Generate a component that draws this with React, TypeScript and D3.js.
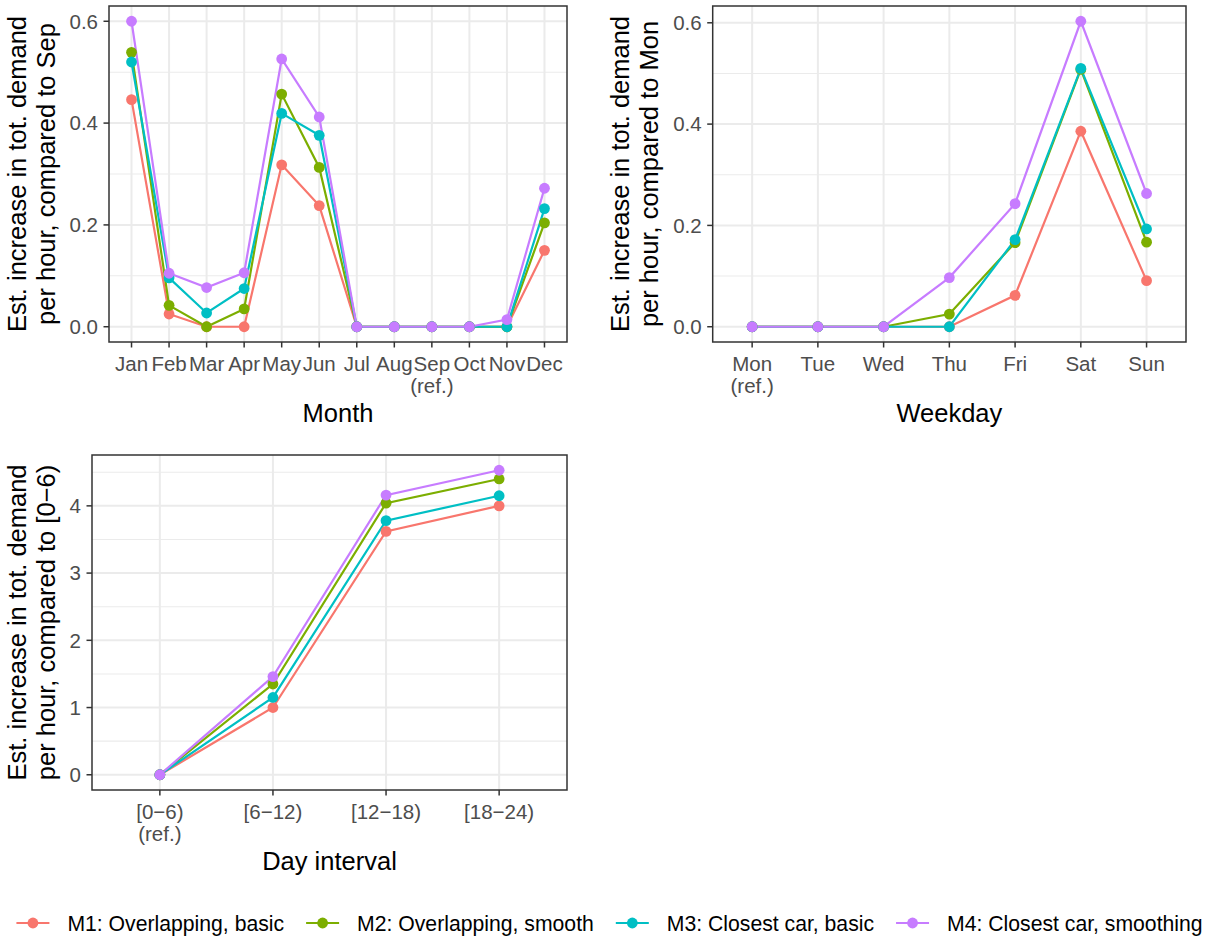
import React from 'react';
import * as d3 from 'd3';

const models = ['M1: Overlapping, basic', 'M2: Overlapping, smooth', 'M3: Closest car, basic', 'M4: Closest car, smoothing'];
const colors = ['#F8766D', '#7CAE00', '#00BFC4', '#C77CFF'];

const months = ['Jan', 'Feb', 'Mar', 'Apr', 'May', 'Jun', 'Jul', 'Aug', 'Sep', 'Oct', 'Nov', 'Dec'];
const monthLabels = ['Jan', 'Feb', 'Mar', 'Apr', 'May', 'Jun', 'Jul', 'Aug', 'Sep\n(ref.)', 'Oct', 'Nov', 'Dec'];
const monthM1 = [0.446, 0.025, 0, 0, 0.318, 0.238, 0, 0, 0, 0, 0, 0.150];
const monthM2 = [0.539, 0.042, 0, 0.035, 0.457, 0.313, 0, 0, 0, 0, 0, 0.204];
const monthM3 = [0.520, 0.096, 0.027, 0.075, 0.419, 0.376, 0, 0, 0, 0, 0, 0.232];
const monthM4 = [0.600, 0.105, 0.077, 0.106, 0.526, 0.412, 0, 0, 0, 0, 0.014, 0.272];

const weekdays = ['Mon', 'Tue', 'Wed', 'Thu', 'Fri', 'Sat', 'Sun'];
const weekdayLabels = ['Mon\n(ref.)', 'Tue', 'Wed', 'Thu', 'Fri', 'Sat', 'Sun'];
const weekM1 = [0, 0, 0, 0, 0.062, 0.386, 0.091];
const weekM2 = [0, 0, 0, 0.025, 0.166, 0.508, 0.167];
const weekM3 = [0, 0, 0, 0, 0.172, 0.510, 0.193];
const weekM4 = [0, 0, 0, 0.097, 0.243, 0.603, 0.263];

const intervals = ['0-6', '6-12', '12-18', '18-24'];
const intervalLabels = ['[0\u22126)\n(ref.)', '[6\u221212)', '[12\u221218)', '[18\u221224)'];
const dayM1 = [0, 1.0, 3.62, 4.0];
const dayM2 = [0, 1.35, 4.04, 4.40];
const dayM3 = [0, 1.15, 3.78, 4.15];
const dayM4 = [0, 1.46, 4.16, 4.53];

const FONT = '"Liberation Sans", Arial, sans-serif';

type PanelProps = {
  ox: number; x0: number; x1: number; y0: number; y1: number;
  cats: string[]; labels: string[]; series: number[][];
  ticks: number[]; minor: number[]; fmt: (v: number) => string;
  xTitle: string; yTitle: string[];
};

function Panel(p: PanelProps) {
  const x = d3.scalePoint<string>().domain(p.cats).range([p.x0, p.x1]).padding(0.6);
  const all = p.series.flat();
  const lo = d3.min(all)!, hi = d3.max(all)!;
  const pad = (hi - lo) * 0.05;
  const y = d3.scaleLinear().domain([lo - pad, hi + pad]).range([p.y1, p.y0]);
  const line = d3.line<number>().x((_, i) => x(p.cats[i])!).y(d => y(d));
  const cy = (p.y0 + p.y1) / 2;
  return (
    <g>
      <rect x={p.x0} y={p.y0} width={p.x1 - p.x0} height={p.y1 - p.y0} fill="#fff" />
      {p.minor.map(v => (
        <line key={'mi' + v} x1={p.x0} x2={p.x1} y1={y(v)} y2={y(v)} stroke="#EBEBEB" strokeWidth={1.1} />
      ))}
      {p.ticks.map(v => (
        <line key={'ma' + v} x1={p.x0} x2={p.x1} y1={y(v)} y2={y(v)} stroke="#EBEBEB" strokeWidth={2} />
      ))}
      {p.cats.map(c => (
        <line key={'mx' + c} x1={x(c)} x2={x(c)} y1={p.y0} y2={p.y1} stroke="#EBEBEB" strokeWidth={2} />
      ))}
      {p.series.map((s, i) => (
        <path key={'l' + i} d={line(s)!} fill="none" stroke={colors[i]} strokeWidth={2.2} />
      ))}
      {p.series.map((s, i) => s.map((v, j) => (
        <circle key={'p' + i + '-' + j} cx={x(p.cats[j])} cy={y(v)} r={5.4} fill={colors[i]} />
      )))}
      <rect x={p.x0} y={p.y0} width={p.x1 - p.x0} height={p.y1 - p.y0} fill="none" stroke="#333333" strokeWidth={1.5} />
      {p.ticks.map(v => (
        <g key={'yt' + v}>
          <line x1={p.x0 - 5.5} x2={p.x0} y1={y(v)} y2={y(v)} stroke="#333333" strokeWidth={1.5} />
          <text x={p.x0 - 11} y={y(v)} dy="0.36em" textAnchor="end" fontSize={20.5} fill="#4D4D4D">{p.fmt(v)}</text>
        </g>
      ))}
      {p.cats.map((c, i) => (
        <g key={'xt' + c}>
          <line x1={x(c)} x2={x(c)} y1={p.y1} y2={p.y1 + 5.5} stroke="#333333" strokeWidth={1.5} />
          {p.labels[i].split('\n').map((t, k) => (
            <text key={k} x={x(c)} y={p.y1 + 29 + k * 21.5} textAnchor="middle" fontSize={20.5} fill="#4D4D4D">{t}</text>
          ))}
        </g>
      ))}
      <text x={(p.x0 + p.x1) / 2} y={p.y1 + 80} textAnchor="middle" fontSize={25.5} fill="#000">{p.xTitle}</text>
      {p.yTitle.map((t, k) => (
        <text key={'ytl' + k} transform={`translate(${p.ox + 26 + k * 29},${cy}) rotate(-90)`} textAnchor="middle" fontSize={25.5} fill="#000">{t}</text>
      ))}
    </g>
  );
}

function Legend() {
  const fs = 21.2;
  const ctx = document.createElement('canvas').getContext('2d')!;
  ctx.font = `${fs}px "Liberation Sans"`;
  const widths = models.map(m => ctx.measureText(m).width);
  const keyW = 33, keyGap = 18, itemGap = 22;
  const total = d3.sum(widths) + models.length * (keyW + keyGap) + (models.length - 1) * itemGap;
  let cx = 609.5 - total / 2;
  const yc = 923;
  const items = models.map((m, i) => {
    const left = cx;
    cx += keyW + keyGap + widths[i] + itemGap;
    return (
      <g key={m}>
        <line x1={left} x2={left + keyW} y1={yc} y2={yc} stroke={colors[i]} strokeWidth={2.2} />
        <circle cx={left + keyW / 2} cy={yc} r={5.4} fill={colors[i]} />
        <text x={left + keyW + keyGap} y={yc} dy="0.36em" fontSize={fs} fill="#000">{m}</text>
      </g>
    );
  });
  return <g>{items}</g>;
}

export default function App() {
  const f1 = d3.format('.1f');
  const f0 = d3.format('d');
  return (
    <svg width={1206} height={938} style={{ position: 'absolute', left: 0, top: 0, background: '#fff' }} fontFamily={FONT}>
      <rect width={1206} height={938} fill="#fff" />
      <Panel ox={0} x0={109} x1={567} y0={6} y1={342} cats={months} labels={monthLabels}
        series={[monthM1, monthM2, monthM3, monthM4]} ticks={[0, 0.2, 0.4, 0.6]} minor={[0.1, 0.3, 0.5]} fmt={f1}
        xTitle="Month" yTitle={['Est. increase in tot. demand', 'per hour, compared to Sep']} />
      <Panel ox={603} x0={712.7} x1={1186} y0={6} y1={342} cats={weekdays} labels={weekdayLabels}
        series={[weekM1, weekM2, weekM3, weekM4]} ticks={[0, 0.2, 0.4, 0.6]} minor={[0.1, 0.3, 0.5]} fmt={f1}
        xTitle="Weekday" yTitle={['Est. increase in tot. demand', 'per hour, compared to Mon']} />
      <Panel ox={0} x0={92} x1={567} y0={455} y1={790} cats={intervals} labels={intervalLabels}
        series={[dayM1, dayM2, dayM3, dayM4]} ticks={[0, 1, 2, 3, 4]} minor={[0.5, 1.5, 2.5, 3.5, 4.5]} fmt={f0}
        xTitle="Day interval" yTitle={['Est. increase in tot. demand', 'per hour, compared to [0\u22126)']} />
      <Legend />
    </svg>
  );
}
